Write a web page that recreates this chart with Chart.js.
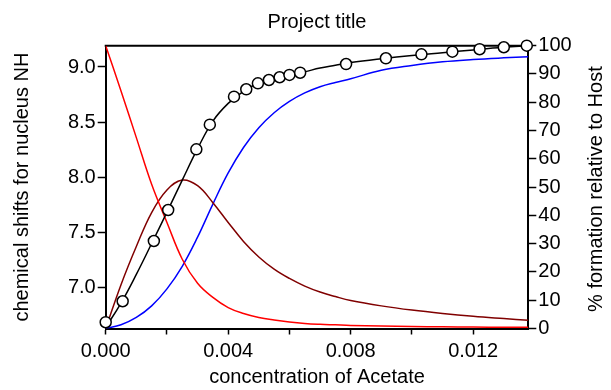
<!DOCTYPE html>
<html>
<head>
<meta charset="utf-8">
<script src="https://cdn.jsdelivr.net/npm/chart.js@4.4.0/dist/chart.umd.min.js"></script>
<style>
html, body { margin: 0; padding: 0; background: #fff; }
</style>
</head>
<body>
<canvas id="chart" width="611" height="390"></canvas>
<script>
// concentration grid for the computed curves
var conc = [0, 0.0005, 0.001, 0.0015, 0.002, 0.0025, 0.003, 0.0035, 0.004, 0.0045, 0.005, 0.0055,
    0.006, 0.0065, 0.007, 0.0075, 0.008, 0.009, 0.010, 0.011, 0.012, 0.013, 0.0138];
var fitShift = [6.64, 6.86, 7.12, 7.40, 7.685, 7.975, 8.26, 8.51, 8.67, 8.78, 8.855, 8.895,
    8.927, 8.957, 8.99, 9.015, 9.04, 9.075, 9.105, 9.13, 9.155, 9.178, 9.192];
var pctHost = [100, 84, 67.5, 51, 37.5, 24.5, 16, 11, 7.4, 5.3, 3.9, 3.0,
    2.3, 1.8, 1.5, 1.3, 1.1, 0.9, 0.7, 0.6, 0.5, 0.45, 0.4];
var pctHG = [0, 15.5, 29, 41, 49, 52.5, 50.5, 44.5, 37.5, 30.8, 25.3, 21,
    17.7, 15, 12.9, 11.3, 9.9, 8.0, 6.5, 5.3, 4.3, 3.5, 2.9];
var pctHG2 = [0, 1.3, 3.9, 8.0, 14.0, 22, 32.3, 44, 55, 64, 71, 76.3,
    80.3, 83.3, 85.5, 87.0, 88.3, 91.3, 93.0, 94.3, 95.1, 95.7, 96.1];

// observed points
var obsConc = [0, 0.000554, 0.001573, 0.00204, 0.00296, 0.0034, 0.00419, 0.00459, 0.00497, 0.00533,
    0.00568, 0.0060, 0.00635, 0.00785, 0.00915, 0.01031, 0.01132, 0.01221, 0.0130, 0.01375];
var obsShift = [6.687, 6.877, 7.423, 7.704, 8.254, 8.477, 8.731, 8.798, 8.852, 8.882,
    8.907, 8.928, 8.948, 9.027, 9.079, 9.115, 9.139, 9.161, 9.179, 9.193];

var leftTicks = [7.0, 7.5, 8.0, 8.5, 9.0];
var xTicks = [0, 0.002, 0.004, 0.006, 0.008, 0.010, 0.012];
var rightTitle = '% formation relative to Host';

function pts(xs, ys) {
    return xs.map(function(x, i) { return {x: x, y: ys[i]}; });
}

var fontFam = '"Liberation Sans", Arial, sans-serif';
Chart.defaults.font.family = fontFam;
Chart.defaults.font.size = 20;
Chart.defaults.color = '#000';

var extras = {
    id: 'extras',
    beforeDatasetsDraw(chart) {
        const {ctx, chartArea: a} = chart;
        ctx.save();
        ctx.strokeStyle = '#000';
        ctx.lineWidth = 2;
        ctx.beginPath();
        ctx.moveTo(a.left - 1, a.top);
        ctx.lineTo(a.right + 1, a.top);
        ctx.stroke();
        ctx.restore();
    },
    afterDraw(chart) {
        const {ctx, chartArea: a} = chart;
        ctx.save();
        ctx.translate(596, (a.top + a.bottom) / 2 + 2);
        ctx.rotate(-Math.PI / 2);
        ctx.font = '20px ' + fontFam;
        ctx.fillStyle = '#000';
        ctx.textAlign = 'center';
        ctx.textBaseline = 'middle';
        ctx.fillText(rightTitle, 0, 0);
        ctx.restore();
    }
};

function curve(label, ys, axis, color) {
    return {
        label: label,
        data: pts(conc, ys),
        yAxisID: axis,
        borderColor: color,
        borderWidth: 1.5,
        pointRadius: 0,
        tension: 0.4
    };
}

var ctx = document.getElementById('chart').getContext('2d');

new Chart(ctx, {
    type: 'line',
    plugins: [extras],
    data: {
        datasets: [{
                label: 'observed',
                data: pts(obsConc, obsShift),
                yAxisID: 'y',
                showLine: false,
                pointRadius: 5.5,
                pointBorderWidth: 1.5,
                pointBorderColor: '#000',
                pointBackgroundColor: '#fff',
                clip: false
            },
            curve('fit', fitShift, 'y', '#000'),
            curve('H', pctHost, 'y2', '#ff0000'),
            curve('HG', pctHG, 'y2', '#800000'),
            curve('HG2', pctHG2, 'y2', '#0000ff')
        ]
    },
    options: {
        responsive: false,
        animation: false,
        layout: { padding: 0 },
        plugins: {
            legend: { display: false },
            tooltip: { enabled: false },
            title: {
                display: true,
                text: 'Project title',
                fullSize: false,
                color: '#000',
                font: { size: 20, weight: 'normal' },
                padding: { top: 10, bottom: 11.7 }
            }
        },
        scales: {
            x: {
                type: 'linear',
                position: 'bottom',
                min: 0,
                max: 0.0138,
                afterBuildTicks: function(scale) {
                    scale.ticks = xTicks.map(function(v) { return {value: v}; });
                },
                afterFit: function(scale) { scale.height = 61.5; },
                grid: {
                    drawOnChartArea: false,
                    drawTicks: true,
                    tickLength: 6,
                    tickColor: '#000',
                    tickWidth: 1.5
                },
                border: { display: true, color: '#000', width: 2 },
                ticks: {
                    padding: 5,
                    maxRotation: 0,
                    color: '#000',
                    callback: function(v) {
                        return Math.round(v * 1000) % 4 === 0 ? v.toFixed(3) : '';
                    }
                },
                title: {
                    display: true,
                    text: 'concentration of Acetate',
                    color: '#000',
                    padding: { top: 0, bottom: 1 }
                }
            },
            y: {
                position: 'left',
                min: 6.63,
                max: 9.193,
                afterBuildTicks: function(scale) {
                    scale.ticks = leftTicks.map(function(v) { return {value: v}; });
                },
                afterFit: function(scale) { scale.width = 105.7; },
                grid: {
                    drawOnChartArea: false,
                    tickLength: 8,
                    tickColor: '#000',
                    tickWidth: 1.5
                },
                border: { display: true, color: '#000', width: 2 },
                ticks: {
                    padding: 2,
                    color: '#000',
                    callback: function(v) { return v.toFixed(1); }
                },
                title: {
                    display: true,
                    text: 'chemical shifts for nucleus NH',
                    color: '#000',
                    padding: { top: 10, bottom: 0 }
                }
            },
            y2: {
                position: 'right',
                min: 0,
                max: 100,
                afterFit: function(scale) { scale.width = 82.7; },
                grid: {
                    drawOnChartArea: false,
                    tickLength: 8,
                    tickColor: '#000',
                    tickWidth: 1.5
                },
                border: { display: true, color: '#000', width: 2 },
                ticks: {
                    stepSize: 10,
                    padding: 2,
                    color: '#000'
                }
            }
        }
    }
});
</script>
</body>
</html>
